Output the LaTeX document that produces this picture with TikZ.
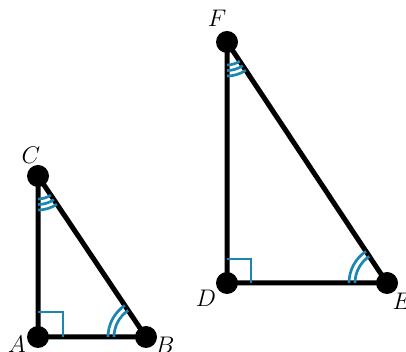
\documentclass[tikz,border=0pt]{standalone}
\usepackage{amsmath,amssymb}
\usepackage{xcolor}
\usepackage{tikz}
\usetikzlibrary{positioning,calc}
\definecolor{markblue}{RGB}{28,134,178}

\begin{document}
\begin{tikzpicture}[
    x=0.5pt, y=0.5pt,
    every node/.style={font=\large},
    dot/.style={circle, fill=black, inner sep=0pt, minimum size=11pt},
    side/.style={line width=2.5pt, line join=round},
    arcmark/.style={draw=markblue, line width=1.35pt},
    rtmark/.style={draw=markblue, line width=1.35pt}
]
\useasboundingbox (0,0) rectangle (406,352);

% small triangle
\node[dot] (A) at (38,15) {};
\node[dot] (B) at (146,15) {};
\node[dot] (C) at (38,176) {};
% large triangle
\node[dot] (D) at (227,69) {};
\node[dot] (E) at (387,69) {};
\node[dot] (F) at (227,310) {};

\draw[side] (A.center) -- (B.center) -- (C.center) -- cycle;
\draw[side] (D.center) -- (E.center) -- (F.center) -- cycle;

% right angles
\draw[rtmark] ([shift={(0,25)}]A.center) -| ([shift={(25,0)}]A.center);
\draw[rtmark] ([shift={(0,24)}]D.center) -| ([shift={(24,0)}]D.center);

% double arcs
\foreach \r in {32,38} {
  \draw[arcmark] ([shift={(180:\r)}]B.center) arc[start angle=180, end angle=123.8, radius=\r];
  \draw[arcmark] ([shift={(180:\r)}]E.center) arc[start angle=180, end angle=123.6, radius=\r];
}
% triple arcs
\foreach \r in {23,28.5,34} {
  \draw[arcmark] ([shift={(270:\r)}]C.center) arc[start angle=270, end angle=303.8, radius=\r];
  \draw[arcmark] ([shift={(270:\r)}]F.center) arc[start angle=270, end angle=303.6, radius=\r];
}

% labels
\node (lblA) at ([shift={(-21,-7)}]A.center) {$A$};
\node (lblB) at ([shift={(19,-8)}]B.center) {$B$};
\node (lblC) at ([shift={(-7,21)}]C.center) {$C$};
\node (lblD) at ([shift={(-21,-15)}]D.center) {$D$};
\node (lblE) at ([shift={(15,-18)}]E.center) {$E$};
\node (lblF) at ([shift={(-10,24)}]F.center) {$F$};

\end{tikzpicture}
\end{document}
